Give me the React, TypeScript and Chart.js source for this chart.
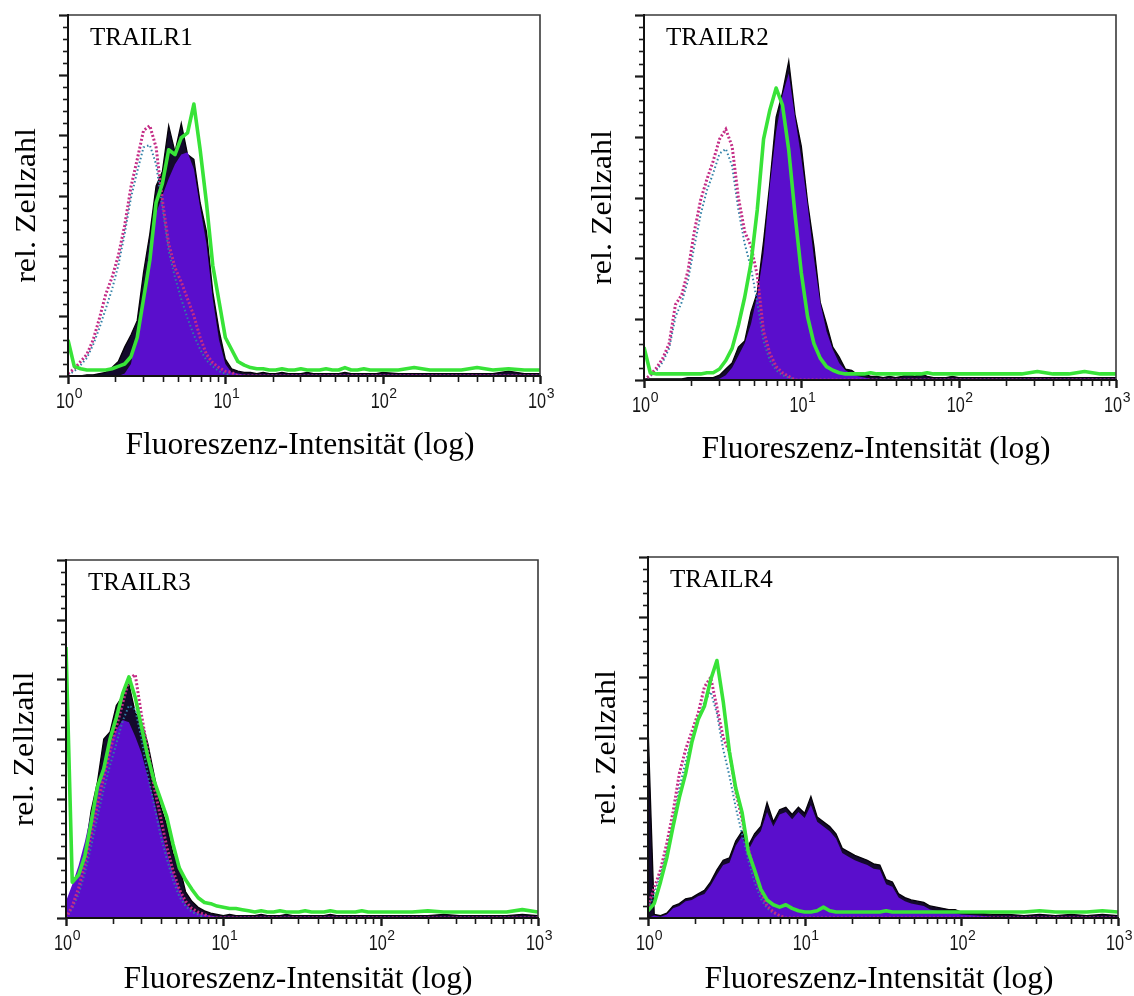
import React, { useEffect, useRef } from 'react';
import { Chart, registerables } from 'chart.js';

Chart.register(...registerables);

// ---------- data ----------
// histogram bin positions (fluorescence intensity, log spaced)
const X_BINS = [
  1, 1.096, 1.202, 1.318, 1.445, 1.585, 1.738, 1.905, 2.089, 2.291,
  2.512, 2.754, 3.02, 3.311, 3.631, 3.981, 4.365, 4.786, 5.248, 5.754,
  6.31, 6.918, 7.586, 8.318, 9.12, 10, 10.96, 12.02, 13.18, 14.45,
  15.85, 17.38, 19.05, 20.89, 22.91, 25.12, 27.54, 30.2, 33.11, 36.31,
  39.81, 43.65, 47.86, 52.48, 57.54, 63.1, 69.18, 75.86, 83.18, 91.2,
  100, 125.9, 158.5, 199.5, 251.2, 316.2, 398.1, 501.2, 631, 794.3,
  1000,
];

const X_MAJOR_TICKS = [1, 10, 100, 1000];
const X_MAJOR_EXPONENTS = ['0', '1', '2', '3'];
const X_MINOR_TICKS = [2, 3, 4, 5, 6, 7, 8, 9, 20, 30, 40, 50, 60, 70, 80, 90, 200, 300, 400, 500, 600, 700, 800, 900];
const Y_MAX = 300;
const Y_TICK_STEP = 10;
const Y_MAJOR_STEP = 50;

const PANEL_LABELS = ['TRAILR1', 'TRAILR2', 'TRAILR3', 'TRAILR4'];
const X_TITLE = 'Fluoreszenz-Intensität (log)';
const Y_TITLE = 'rel. Zellzahl';

// TRAILR1
const P1_BLACK = [
  0, 0, 0, 1, 1, 2, 3, 7, 12, 24,
  34, 46, 86, 118, 158, 170, 208, 186, 210, 184,
  180, 144, 120, 70, 38, 14, 6, 4, 3, 3,
  2, 3, 2, 2, 3, 2, 2, 2, 3, 2,
  2, 2, 2, 2, 3, 2, 2, 2, 2, 2,
  3, 2, 2, 2, 2, 2, 2, 2, 4, 2,
  2,
];
const P1_PURPLE = [
  0, 0, 0, 0, 0, 0, 0, 0, 0, 2,
  10, 35, 62, 110, 135, 150, 164, 176, 184, 186,
  172, 140, 110, 64, 30, 10, 3, 2, 1, 1,
  1, 1, 1, 1, 1, 1, 1, 1, 1, 1,
  1, 1, 1, 1, 1, 1, 1, 1, 1, 1,
  1, 1, 1, 1, 1, 1, 1, 1, 1, 1,
  1,
];
const P1_GREEN = [
  30, 8, 6, 5, 5, 5, 5, 6, 8, 10,
  16, 32, 64, 96, 144, 160, 188, 184, 198, 202,
  226, 188, 144, 92, 62, 32, 22, 12, 9, 7,
  6, 6, 5, 5, 6, 5, 5, 6, 5, 5,
  5, 6, 5, 5, 7, 5, 5, 6, 5, 5,
  5, 5, 7, 5, 5, 5, 7, 5, 6, 5,
  5,
];
const P1_MAGENTA = [
  2, 6, 12, 18, 30, 48, 68, 82, 100, 125,
  157, 180, 204, 208, 190, 146, 110, 90, 78, 64,
  50, 32, 18, 11, 7, 4, 3, 0, 0, 0,
  0, 0, 0, 0, 0, 0, 0, 0, 0, 0,
  0, 0, 0, 0, 0, 0, 0, 0, 0, 0,
  0, 0, 0, 0, 0, 0, 0, 0, 0, 0,
  0,
];
const P1_TEAL = [
  1, 4, 9, 15, 26, 40, 56, 72, 92, 118,
  148, 170, 190, 192, 176, 140, 104, 82, 64, 48,
  34, 22, 13, 8, 4, 2, 0, 0, 0, 0,
  0, 0, 0, 0, 0, 0, 0, 0, 0, 0,
  0, 0, 0, 0, 0, 0, 0, 0, 0, 0,
  0, 0, 0, 0, 0, 0, 0, 0, 0, 0,
  0,
];

// TRAILR2
const P2_BLACK = [
  1, 1, 1, 1, 1, 1, 1, 2, 2, 2,
  2, 2, 4, 9, 14, 27, 32, 56, 72, 114,
  162, 216, 236, 262, 218, 192, 146, 110, 64, 46,
  27, 19, 9, 8, 4, 5, 3, 3, 2, 3,
  2, 3, 5, 3, 5, 3, 2, 2, 2, 3,
  2, 2, 2, 2, 2, 2, 2, 2, 2, 2,
  2,
];
const P2_PURPLE = [
  0, 0, 0, 0, 0, 0, 0, 0, 0, 0,
  0, 0, 1, 4, 10, 20, 30, 46, 70, 104,
  160, 204, 234, 252, 216, 182, 144, 100, 64, 40,
  25, 14, 8, 5, 3, 2, 1, 1, 1, 1,
  1, 1, 1, 1, 1, 1, 1, 1, 1, 1,
  1, 1, 1, 1, 1, 1, 1, 1, 1, 1,
  1,
];
const P2_GREEN = [
  27, 6, 5, 5, 5, 5, 5, 5, 5, 5,
  6, 6, 9, 16, 26, 45, 68, 96, 140, 198,
  222, 240, 226, 189, 136, 88, 52, 30, 18, 11,
  8, 6, 5, 5, 5, 5, 6, 5, 5, 5,
  5, 5, 5, 5, 5, 6, 5, 5, 5, 5,
  5, 5, 5, 5, 5, 7, 5, 5, 7, 5,
  5,
];
const P2_MAGENTA = [
  0, 4, 10, 18, 30, 62, 70, 90, 122, 148,
  165, 180, 198, 206, 192, 150, 122, 110, 86, 40,
  22, 11, 6, 3, 0, 0, 0, 0, 0, 0,
  0, 0, 0, 0, 0, 0, 0, 0, 0, 0,
  0, 0, 0, 0, 0, 0, 0, 0, 0, 0,
  0, 0, 0, 0, 0, 0, 0, 0, 0, 0,
  0,
];
const P2_TEAL = [
  0, 3, 8, 15, 26, 52, 64, 82, 110, 136,
  156, 170, 186, 190, 176, 140, 112, 92, 64, 32,
  16, 8, 4, 2, 0, 0, 0, 0, 0, 0,
  0, 0, 0, 0, 0, 0, 0, 0, 0, 0,
  0, 0, 0, 0, 0, 0, 0, 0, 0, 0,
  0, 0, 0, 0, 0, 0, 0, 0, 0, 0,
  0,
];

// TRAILR3
const P3_BLACK = [
  0, 12, 30, 54, 90, 114, 150, 156, 178, 186,
  196, 172, 164, 146, 120, 94, 78, 54, 44, 22,
  14, 9, 6, 4, 3, 2, 3, 2, 2, 2,
  2, 3, 2, 2, 2, 3, 2, 2, 2, 2,
  2, 2, 3, 2, 2, 2, 2, 2, 2, 2,
  2, 2, 2, 2, 3, 2, 2, 2, 2, 3,
  2,
];
const P3_PURPLE = [
  14, 28, 44, 64, 88, 110, 130, 146, 158, 166,
  164, 152, 138, 118, 98, 76, 56, 38, 24, 12,
  7, 4, 3, 2, 1, 1, 1, 1, 1, 1,
  1, 1, 1, 1, 1, 1, 1, 1, 1, 1,
  1, 1, 1, 1, 1, 1, 1, 1, 1, 1,
  1, 1, 1, 1, 1, 1, 1, 1, 1, 1,
  1,
];
const P3_GREEN = [
  227, 30, 36, 52, 80, 110, 125, 150, 168, 188,
  202, 185, 160, 135, 115, 100, 85, 62, 42, 32,
  24, 17, 13, 12, 10, 9, 8, 8, 7, 6,
  5, 6, 5, 5, 6, 5, 5, 5, 6, 5,
  5, 5, 6, 5, 5, 5, 5, 6, 5, 5,
  5, 5, 5, 6, 5, 5, 5, 5, 5, 7,
  5,
];
const P3_MAGENTA = [
  0, 10, 25, 45, 70, 95, 118, 140, 160, 180,
  200, 204, 170, 140, 110, 85, 60, 40, 24, 14,
  8, 5, 3, 0, 0, 0, 0, 0, 0, 0,
  0, 0, 0, 0, 0, 0, 0, 0, 0, 0,
  0, 0, 0, 0, 0, 0, 0, 0, 0, 0,
  0, 0, 0, 0, 0, 0, 0, 0, 0, 0,
  0,
];
const P3_TEAL = [
  0, 8, 20, 38, 60, 85, 108, 128, 146, 165,
  178, 175, 150, 120, 95, 70, 50, 32, 18, 10,
  5, 3, 0, 0, 0, 0, 0, 0, 0, 0,
  0, 0, 0, 0, 0, 0, 0, 0, 0, 0,
  0, 0, 0, 0, 0, 0, 0, 0, 0, 0,
  0, 0, 0, 0, 0, 0, 0, 0, 0, 0,
  0,
];

// TRAILR4
const P4_BLACK = [
  160, 3, 2, 4, 10, 12, 16, 17, 20, 23,
  30, 40, 48, 50, 64, 72, 60, 70, 76, 96,
  80, 90, 92, 86, 92, 87, 101, 84, 80, 76,
  70, 58, 55, 52, 50, 48, 45, 44, 32, 30,
  20, 17, 15, 14, 13, 10, 9, 8, 7, 7,
  5, 4, 3, 3, 2, 3, 2, 3, 2, 3,
  2,
];
const P4_PURPLE = [
  0, 2, 1, 3, 8, 10, 14, 15, 18, 20,
  27, 36, 44, 46, 60, 68, 56, 66, 72, 88,
  76, 86, 88, 82, 88, 83, 94, 80, 76, 72,
  66, 54, 51, 48, 46, 44, 41, 40, 28, 26,
  17, 14, 12, 11, 10, 7, 6, 5, 4, 4,
  3, 2, 1, 1, 1, 1, 1, 1, 1, 1,
  1,
];
const P4_GREEN = [
  6, 12, 30, 50, 76, 100, 120, 146, 165, 176,
  198, 214, 180, 138, 108, 88, 55, 40, 24, 15,
  11, 9, 11, 8, 6, 5, 5, 6, 9, 6,
  5, 5, 5, 5, 5, 5, 5, 5, 6, 5,
  5, 5, 5, 5, 5, 5, 5, 5, 5, 5,
  5, 5, 5, 5, 5, 6, 5, 5, 5, 6,
  5,
];
const P4_MAGENTA = [
  10, 25, 40, 62, 88, 120, 140, 155, 170, 192,
  200, 175, 150, 138, 105, 82, 58, 38, 22, 10,
  5, 2, 0, 0, 0, 0, 0, 0, 0, 0,
  0, 0, 0, 0, 0, 0, 0, 0, 0, 0,
  0, 0, 0, 0, 0, 0, 0, 0, 0, 0,
  0, 0, 0, 0, 0, 0, 0, 0, 0, 0,
  0,
];
const P4_TEAL = [
  8, 20, 36, 56, 80, 108, 130, 148, 164, 180,
  188, 170, 140, 118, 92, 70, 48, 30, 16, 8,
  4, 2, 0, 0, 0, 0, 0, 0, 0, 0,
  0, 0, 0, 0, 0, 0, 0, 0, 0, 0,
  0, 0, 0, 0, 0, 0, 0, 0, 0, 0,
  0, 0, 0, 0, 0, 0, 0, 0, 0, 0,
  0,
];

const SERIES = [
  { black: P1_BLACK, purple: P1_PURPLE, green: P1_GREEN, magenta: P1_MAGENTA, teal: P1_TEAL },
  { black: P2_BLACK, purple: P2_PURPLE, green: P2_GREEN, magenta: P2_MAGENTA, teal: P2_TEAL },
  { black: P3_BLACK, purple: P3_PURPLE, green: P3_GREEN, magenta: P3_MAGENTA, teal: P3_TEAL },
  { black: P4_BLACK, purple: P4_PURPLE, green: P4_GREEN, magenta: P4_MAGENTA, teal: P4_TEAL },
];

// ---------- layout / style ----------
const LAYOUT = [
  { left: 0, top: 0, width: 567, height: 480, area: { l: 68, t: 15, r: 540, b: 376 }, titleDy: 78 },
  { left: 567, top: 0, width: 567, height: 480, area: { l: 644, t: 15, r: 1116, b: 380 }, titleDy: 78 },
  { left: 0, top: 480, width: 567, height: 516, area: { l: 66, t: 560, r: 538, b: 918 }, titleDy: 70 },
  { left: 567, top: 480, width: 567, height: 516, area: { l: 648, t: 557, r: 1118, b: 918 }, titleDy: 70 },
];

const SERIF = '"Liberation Serif", "Times New Roman", Times, serif';
const SANS = '"Liberation Sans", Arial, Helvetica, sans-serif';

const COLORS = {
  black: '#140a2c',
  blackLine: '#050208',
  purple: '#5a0ecc',
  green: '#38e338',
  magenta: '#c42c86',
  teal: '#2f7fa6',
};

const toPoints = (vals: number[]) => X_BINS.map((x, i) => ({ x, y: vals[i] ?? 0 }));

function makeDecorPlugin(panelIndex: number) {
  const lay = LAYOUT[panelIndex];
  return {
    id: 'panelDecor' + panelIndex,
    afterDatasetsDraw(chart: any) {
      const { ctx, chartArea: a, scales } = chart;
      const xs = scales.x;
      const ys = scales.y;
      ctx.save();
      // frame (top + right)
      ctx.strokeStyle = '#3a3a3a';
      ctx.lineWidth = 1.6;
      ctx.beginPath();
      ctx.moveTo(a.left, a.top);
      ctx.lineTo(a.right, a.top);
      ctx.lineTo(a.right, a.bottom);
      ctx.stroke();
      // axes
      ctx.strokeStyle = '#111';
      ctx.lineWidth = 2;
      ctx.beginPath();
      ctx.moveTo(a.left, a.top - 1);
      ctx.lineTo(a.left, a.bottom);
      ctx.lineTo(a.right + 1, a.bottom);
      ctx.stroke();
      // y ticks (pointing left)
      ctx.strokeStyle = '#1a1a1a';
      for (let v = 0; v <= Y_MAX; v += Y_TICK_STEP) {
        const y = Math.round(ys.getPixelForValue(v)) + 0.5;
        const major = v % Y_MAJOR_STEP === 0;
        ctx.lineWidth = major ? 2.2 : 1.6;
        ctx.beginPath();
        ctx.moveTo(a.left, y);
        ctx.lineTo(a.left - (major ? 9 : 5), y);
        ctx.stroke();
      }
      // x ticks (pointing down)
      X_MINOR_TICKS.forEach((v) => {
        const x = Math.round(xs.getPixelForValue(v)) + 0.5;
        ctx.lineWidth = 1.6;
        ctx.beginPath();
        ctx.moveTo(x, a.bottom);
        ctx.lineTo(x, a.bottom + 6);
        ctx.stroke();
      });
      X_MAJOR_TICKS.forEach((v) => {
        const x = Math.round(xs.getPixelForValue(v)) + 0.5;
        ctx.lineWidth = 2.4;
        ctx.beginPath();
        ctx.moveTo(x, a.bottom);
        ctx.lineTo(x, a.bottom + 8);
        ctx.stroke();
      });
      ctx.restore();
    },
    afterDraw(chart: any) {
      const { ctx, chartArea: a, scales } = chart;
      const xs = scales.x;
      ctx.save();
      ctx.fillStyle = '#000';
      ctx.textBaseline = 'alphabetic';

      // tick labels 10^n
      X_MAJOR_TICKS.forEach((v, i) => {
        const px = xs.getPixelForValue(v);
        const sx = 0.74;
        ctx.font = `22px ${SANS}`;
        const w10 = ctx.measureText('10').width * sx;
        ctx.font = `14px ${SANS}`;
        const we = ctx.measureText(X_MAJOR_EXPONENTS[i]).width;
        const start = px - (w10 + we) / 2 + 1;
        ctx.fillStyle = '#161616';
        ctx.save();
        ctx.translate(start, a.bottom + 32);
        ctx.scale(sx, 1);
        ctx.font = `22px ${SANS}`;
        ctx.textAlign = 'left';
        ctx.fillText('10', 0, 0);
        ctx.restore();
        ctx.font = `14px ${SANS}`;
        ctx.textAlign = 'left';
        ctx.fillText(X_MAJOR_EXPONENTS[i], start + w10 + 0.5, a.bottom + 22);
      });

      ctx.fillStyle = '#000';
      // panel label
      ctx.font = `25px ${SERIF}`;
      ctx.textAlign = 'left';
      ctx.fillText(PANEL_LABELS[panelIndex], a.left + 22, a.top + 30);

      // x title
      ctx.font = `31.5px ${SERIF}`;
      ctx.textAlign = 'center';
      ctx.fillText(X_TITLE, (a.left + a.right) / 2 - 4, a.bottom + lay.titleDy);

      // y title
      ctx.save();
      ctx.translate(a.left - 33, (a.top + a.bottom) / 2 + 10);
      ctx.scale(0.9, 1);
      ctx.rotate(-Math.PI / 2);
      ctx.font = `32px ${SERIF}`;
      ctx.textAlign = 'center';
      ctx.fillText(Y_TITLE, 0, 0);
      ctx.restore();

      ctx.restore();
    },
  };
}

function HistogramPanel({ index }: { index: number }) {
  const ref = useRef<HTMLCanvasElement | null>(null);
  const lay = LAYOUT[index];
  useEffect(() => {
    if (!ref.current) return;
    const s = SERIES[index];
    const padding = {
      left: lay.area.l - lay.left,
      top: lay.area.t - lay.top,
      right: lay.left + lay.width - lay.area.r,
      bottom: lay.top + lay.height - lay.area.b,
    };
    const chart = new Chart(ref.current, {
      type: 'line',
      data: {
        datasets: [
          {
            label: 'Probe (Kontur)',
            data: toPoints(s.black),
            borderColor: COLORS.blackLine,
            borderWidth: 1.3,
            backgroundColor: COLORS.black,
            fill: 'origin',
            order: 5,
          },
          {
            label: 'Probe',
            data: toPoints(s.purple),
            borderColor: 'rgba(0,0,0,0)',
            borderWidth: 0,
            backgroundColor: COLORS.purple,
            fill: 'origin',
            order: 4,
          },
          {
            label: 'Kontrolle 2',
            data: toPoints(s.teal),
            borderColor: COLORS.teal,
            borderWidth: 2,
            borderDash: [1.5, 2.5],
            fill: false,
            order: 3,
          },
          {
            label: 'Isotyp',
            data: toPoints(s.magenta),
            borderColor: COLORS.magenta,
            borderWidth: 3,
            borderDash: [2, 2],
            fill: false,
            order: 2,
          },
          {
            label: 'Kontrolle',
            data: toPoints(s.green),
            borderColor: COLORS.green,
            borderWidth: 3.6,
            borderJoinStyle: 'round',
            fill: false,
            order: 1,
          },
        ],
      },
      options: {
        responsive: false,
        maintainAspectRatio: false,
        animation: false,
        devicePixelRatio: 1,
        events: [],
        layout: { padding },
        elements: { point: { radius: 0 }, line: { tension: 0 } },
        plugins: {
          legend: { display: false },
          tooltip: { enabled: false },
          title: { display: false },
        },
        scales: {
          x: { type: 'logarithmic', min: 1, max: 1000, display: false },
          y: { type: 'linear', min: 0, max: Y_MAX, display: false },
        },
      } as any,
      plugins: [makeDecorPlugin(index)],
    } as any);
    return () => chart.destroy();
  }, [index]);
  return (
    <canvas
      ref={ref}
      width={lay.width}
      height={lay.height}
      style={{ position: 'absolute', left: lay.left, top: lay.top, width: lay.width, height: lay.height }}
    />
  );
}

export default function App() {
  return (
    <div style={{ position: 'absolute', left: 0, top: 0, width: 1134, height: 996, background: '#fff', overflow: 'hidden' }}>
      {[0, 1, 2, 3].map((i) => (
        <HistogramPanel key={i} index={i} />
      ))}
    </div>
  );
}
